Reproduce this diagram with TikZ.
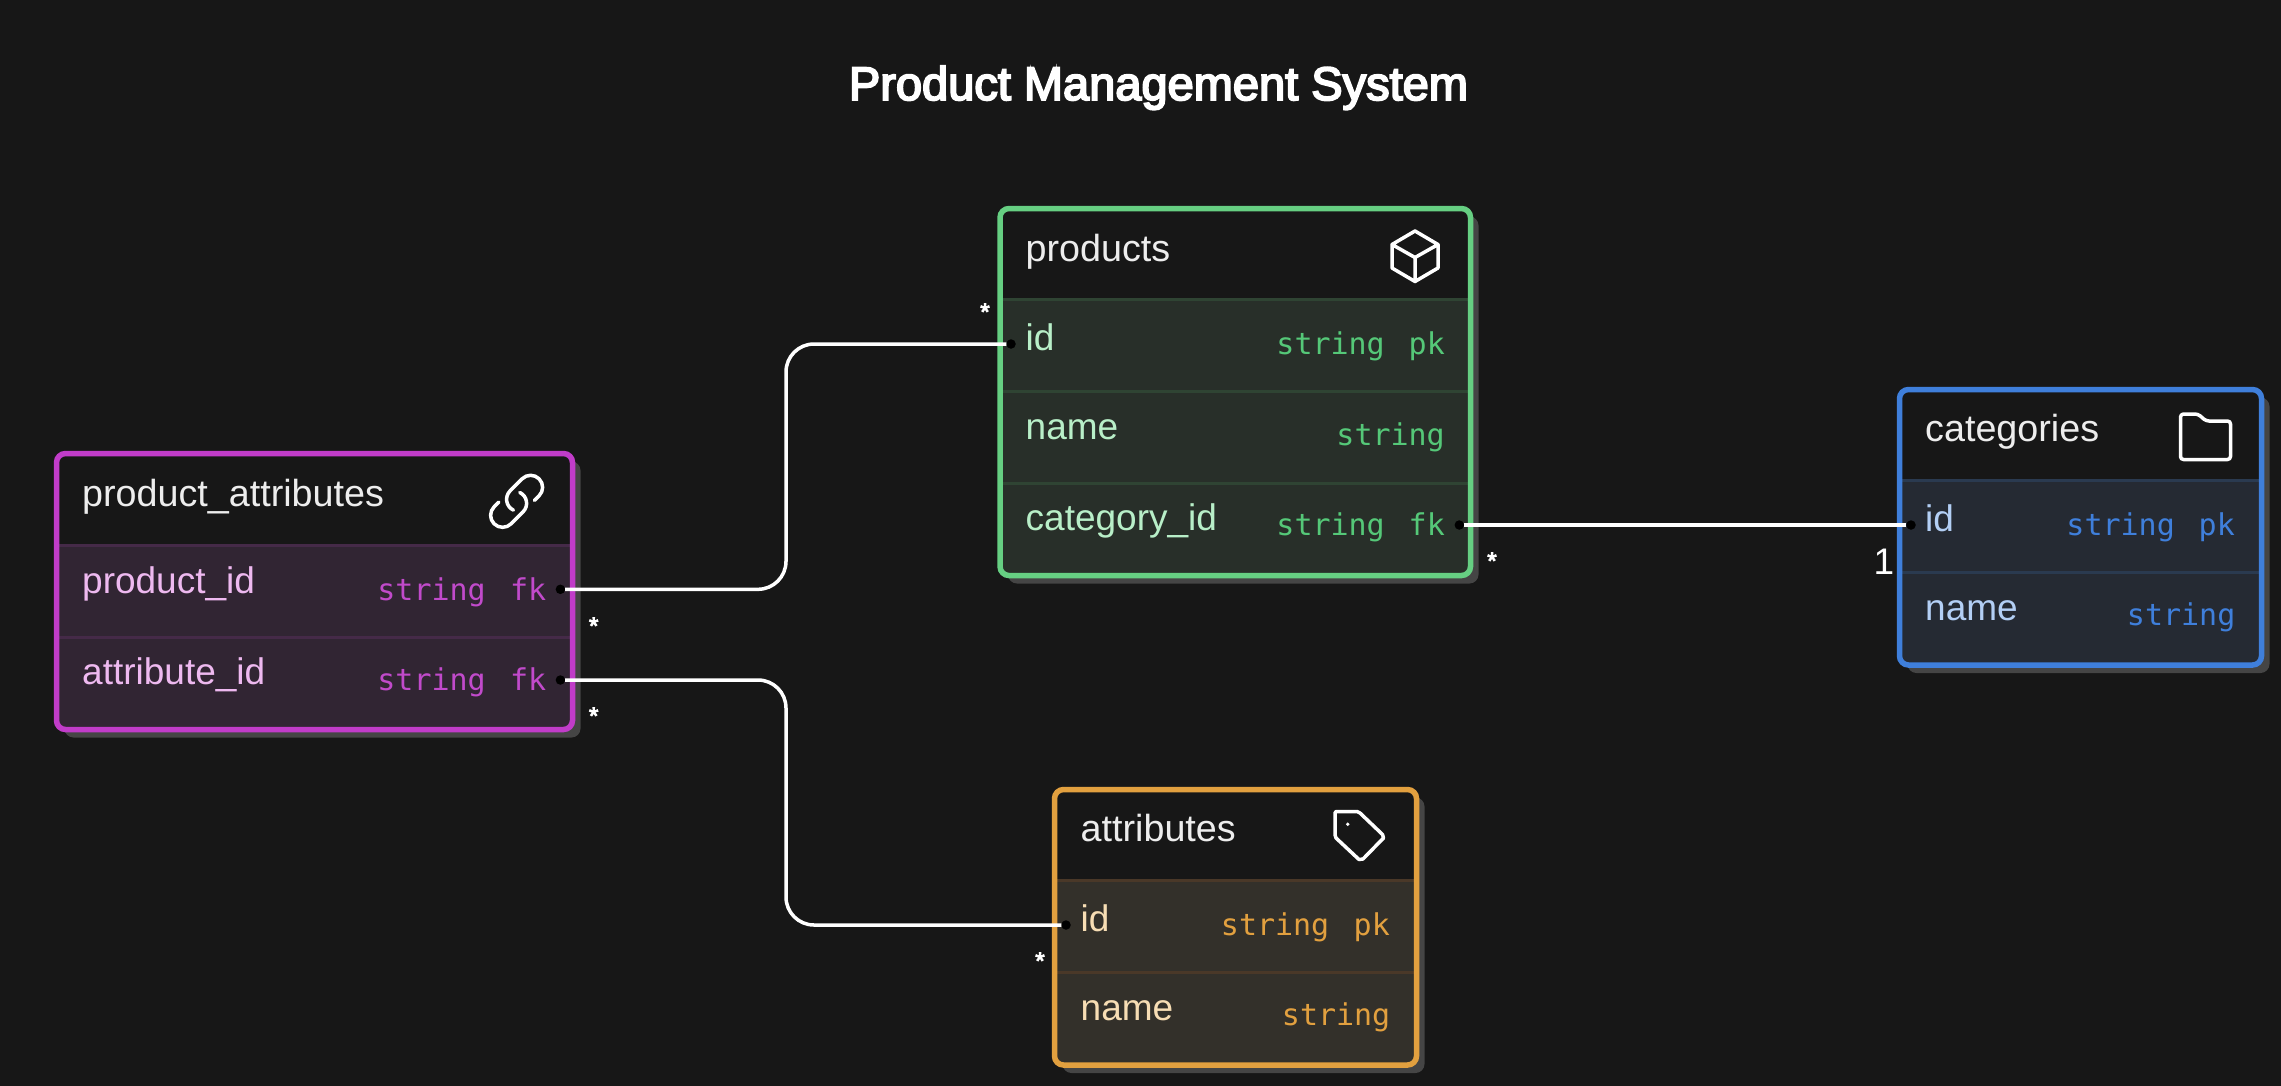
\documentclass[tikz,border=0pt]{standalone}
\usepackage{fontspec}
\setmainfont{Liberation Sans}
\newfontfamily\monof{DejaVu Sans Mono}
\newfontfamily\titlef[FakeBold=4]{Liberation Sans}
\definecolor{bgc}{HTML}{171717}
\definecolor{shadowc}{HTML}{454545}
\definecolor{headc}{HTML}{EDEDED}
\definecolor{grnB}{HTML}{66CF82}\definecolor{grnT}{HTML}{55C878}\definecolor{grnF}{HTML}{B8EFC8}\definecolor{grnR}{HTML}{282F29}\definecolor{grnD}{HTML}{2F4433}
\definecolor{purB}{HTML}{C13CC9}\definecolor{purT}{HTML}{C14ACB}\definecolor{purF}{HTML}{EEB9F0}\definecolor{purR}{HTML}{312533}\definecolor{purD}{HTML}{452A48}
\definecolor{orgB}{HTML}{E2A03F}\definecolor{orgT}{HTML}{E2A03F}\definecolor{orgF}{HTML}{F7DDB4}\definecolor{orgR}{HTML}{33302A}\definecolor{orgD}{HTML}{4A3828}
\definecolor{bluB}{HTML}{3F7FDB}\definecolor{bluT}{HTML}{3F7FDB}\definecolor{bluF}{HTML}{B3CFF5}\definecolor{bluR}{HTML}{252A33}\definecolor{bluD}{HTML}{2A3A50}
\tikzset{
  tablebox/.style={draw=#1,line width=5.5pt,rounded corners=9pt,rectangle,inner sep=0pt,outer sep=0pt},
  headtxt/.style={anchor=base west,inner sep=0pt,text=headc,font=\fontsize{37.7}{40}\selectfont},
  fieldtxt/.style={anchor=base west,inner sep=0pt,text=#1,font=\fontsize{37}{40}\selectfont},
  typetxt/.style={anchor=base east,inner sep=0pt,text=#1,font=\monof\fontsize{30}{34}\selectfont},
  pindot/.style={circle,fill=black,draw=none,minimum size=9.5pt,inner sep=0pt,outer sep=0pt},
  link/.style={draw=white,line width=3.5pt},
  card/.style={anchor=base,inner sep=0pt,text=white,font=\titlef\fontsize{24}{26}\selectfont},
  icon/.style={draw=white,line width=3.5pt,line join=round,line cap=round},
  divider/.style={draw=#1,line width=3pt}
}
\newcommand{\tablebg}[6]{%
  \fill[shadowc,rounded corners=9pt] (#1+8,#2+8) rectangle (#3+8,#4+8);
  \fill[bgc,rounded corners=9pt] (#1,#2) rectangle (#3,#4);
  \fill[#6] (#1,#5) -- (#3,#5) [rounded corners=9pt] -- (#3,#4) -- (#1,#4) [sharp corners] -- cycle;
}
\begin{document}
\begin{tikzpicture}[x=1pt,y=-1pt]
\useasboundingbox (0,0) rectangle (2281,1085);
\fill[bgc] (-20,-20) rectangle (2301,1105);
\node[anchor=base,inner sep=0pt,text=white,font=\titlef\fontsize{47}{50}\selectfont] (title) at (1158.5,100) {Product Management System};

% products
\tablebg{1000}{208.5}{1470.5}{575.5}{299}{grnR}
\draw[divider=grnD] (1002,299) -- (1468,299);
\draw[divider=grnD] (1002,391.5) -- (1468,391.5);
\draw[divider=grnD] (1002,483) -- (1468,483);
\node[tablebox=grnB,minimum width=470.5pt,minimum height=367pt] (products) at (1235.25,392) {};
\node[headtxt] (productsT) at (1025.5,261) {products};
\node[fieldtxt=grnF] (pid) at (1025.5,350) {id};
\node[fieldtxt=grnF] (pname) at (1025.5,439) {name};
\node[fieldtxt=grnF] (pcat) at (1025.5,530) {category\_id};
\node[typetxt=grnT] (pidT) at (1385,354) {string};
\node[typetxt=grnT] (pidK) at (1445,354) {pk};
\node[typetxt=grnT] (pnameT) at (1445,445) {string};
\node[typetxt=grnT] (pcatT) at (1385,535.5) {string};
\node[typetxt=grnT] (pcatK) at (1445,535.5) {fk};
\draw[icon] (1415,231) -- (1438,244.5) -- (1438,268) -- (1415,281.5) -- (1392,268) -- (1392,244.5) -- cycle
  (1392,244.5) -- (1415,257.5) -- (1438,244.5) (1415,257.5) -- (1415,281.5);

% product_attributes
\tablebg{56.5}{453.5}{572.5}{729.5}{545}{purR}
\draw[divider=purD] (58,545) -- (571,545);
\draw[divider=purD] (58,637.5) -- (571,637.5);
\node[tablebox=purB,minimum width=516pt,minimum height=276pt] (pattrs) at (314.5,591.5) {};
\node[headtxt] (pattrsT) at (82,506.5) {product\_attributes};
\node[fieldtxt=purF] (paprod) at (82,593) {product\_id};
\node[fieldtxt=purF] (paattr) at (82,684) {attribute\_id};
\node[typetxt=purT] (paprodT) at (486,600) {string};
\node[typetxt=purT] (paprodK) at (546.5,600) {fk};
\node[typetxt=purT] (paattrT) at (486,690) {string};
\node[typetxt=purT] (paattrK) at (546.5,690) {fk};
\begin{scope}[shift={(484.6,469.3)},scale=2.667]
\draw[icon] (13.19,8.688) .. controls (15.994,10.026) and (16.629,13.735) .. (14.432,15.932)
  -- (9.932,20.432) .. controls (8.175,22.189) and (5.325,22.189) .. (3.568,20.432)
  .. controls (1.811,18.675) and (1.811,15.825) .. (3.568,14.068) -- (5.325,12.311);
\draw[icon] (18.675,11.689) -- (20.432,9.932) .. controls (22.189,8.175) and (22.189,5.325) .. (20.432,3.568)
  .. controls (18.675,1.811) and (15.825,1.811) .. (14.068,3.568) -- (9.568,8.068)
  .. controls (7.371,10.265) and (8.006,13.974) .. (10.81,15.312);
\end{scope}

% attributes
\tablebg{1054.5}{789.5}{1416.5}{1065}{880}{orgR}
\draw[divider=orgD] (1056,880) -- (1415,880);
\draw[divider=orgD] (1056,972.5) -- (1415,972.5);
\node[tablebox=orgB,minimum width=362pt,minimum height=275.5pt] (attrs) at (1235.5,927.25) {};
\node[headtxt] (attrsT) at (1080.5,841.5) {attributes};
\node[fieldtxt=orgF] (aid) at (1080.5,931) {id};
\node[fieldtxt=orgF] (aname) at (1080.5,1020.5) {name};
\node[typetxt=orgT] (aidT) at (1329.5,935) {string};
\node[typetxt=orgT] (aidK) at (1390,935) {pk};
\node[typetxt=orgT] (anameT) at (1390.5,1025.5) {string};
\draw[icon] (1336,811.5) -- (1357,811.5) -- (1360,813) -- (1382.5,834.5) -- (1383.5,838) -- (1363,859) -- (1359,859.5) -- (1336,838) -- (1335,835) -- (1335,813) -- cycle;
\fill[white] (1347.7,824.3) circle (1.9pt);

% categories
\tablebg{1899.5}{389.5}{2261.5}{665}{480}{bluR}
\draw[divider=bluD] (1901,480) -- (2260,480);
\draw[divider=bluD] (1901,572.5) -- (2260,572.5);
\node[tablebox=bluB,minimum width=362pt,minimum height=275.5pt] (cats) at (2080.5,527.25) {};
\node[headtxt] (catsT) at (1925,441) {categories};
\node[fieldtxt=bluF] (cid) at (1925,531) {id};
\node[fieldtxt=bluF] (cname) at (1925,620.5) {name};
\node[typetxt=bluT] (cidT) at (2175,535) {string};
\node[typetxt=bluT] (cidK) at (2235,535) {pk};
\node[typetxt=bluT] (cnameT) at (2235.5,625.5) {string};
\draw[icon,rounded corners=3pt] (2180.5,414) -- (2198,414) -- (2206,421) -- (2230.5,421) -- (2230.5,459.5) -- (2180.5,459.5) -- cycle;

% connector pins
\node[pindot] (pinPA1) at (560.4,589.3) {};
\node[pindot] (pinPA2) at (560.4,680) {};
\node[pindot] (pinP) at (1011,344) {};
\node[pindot] (pinPC) at (1459.3,525) {};
\node[pindot] (pinC) at (1911,525) {};
\node[pindot] (pinA) at (1066,925) {};
\coordinate (bend) at (786,0);

\draw[link,rounded corners=28pt] (pinPA1) -- (pinPA1 -| bend) -- (bend |- pinP) -- (pinP);
\draw[link,rounded corners=28pt] (pinPA2) -- (pinPA2 -| bend) -- (bend |- pinA) -- (pinA);
\draw[link] (pinPC) -- (pinC);

% cardinalities
\node[card] (c1) at (985,320) {*};
\node[card] (c2) at (1492,569) {*};
\node[card] (c3) at (593.7,634) {*};
\node[card] (c4) at (593.7,724) {*};
\node[card] (c5) at (1040,969) {*};
\node[anchor=base,inner sep=0pt,text=white,font=\fontsize{37}{40}\selectfont] (c6) at (1884,574) {1};
\end{tikzpicture}
\end{document}
